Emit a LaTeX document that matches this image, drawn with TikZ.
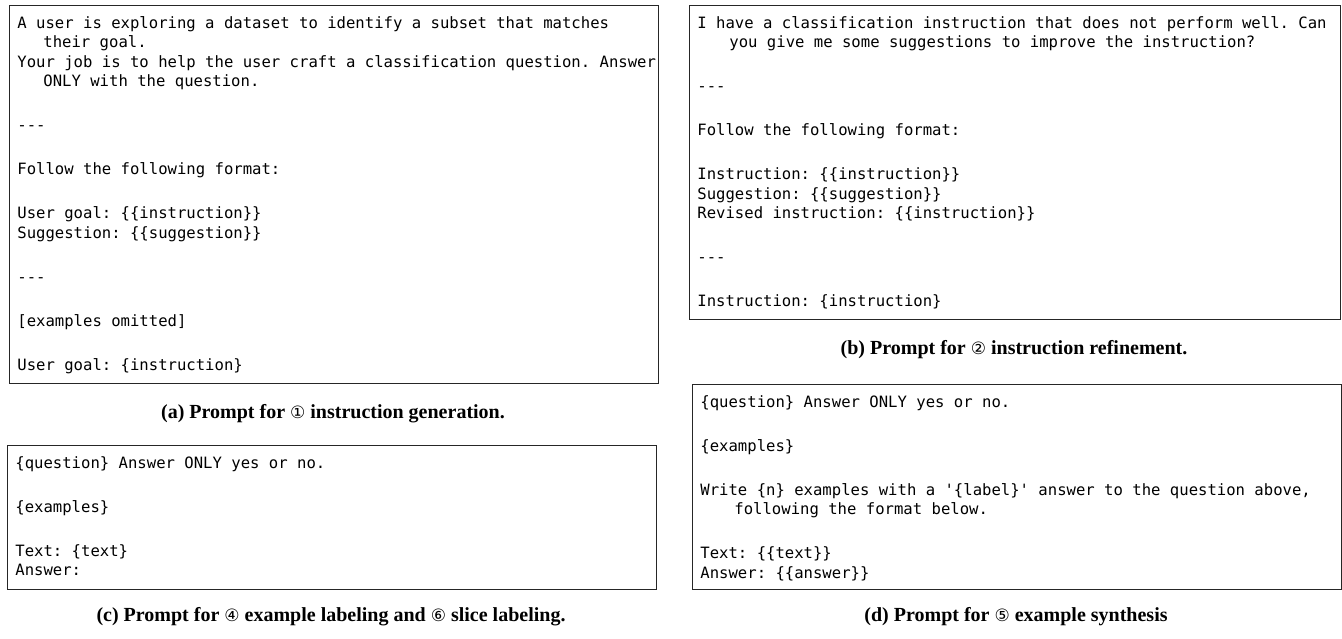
\documentclass[tikz,border=0pt]{standalone}
\usepackage{fontspec}
\setmainfont{Liberation Serif}
\setmonofont{DejaVu Sans Mono}
\newfontfamily\circfont{DejaVu Sans}
\newcommand{\circnum}[1]{{\circfont\mdseries\fontsize{8.5}{10}\selectfont #1}}
\newcommand{\blankgap}{12.25pt}

\begin{document}
\begin{tikzpicture}[x=0.5pt, y=-0.5pt,
    promptframe/.style={draw=black!85, line width=0.55pt, rectangle, inner sep=0pt, anchor=north west},
    prompttext/.style={anchor=north west, inner sep=0pt, align=left, font=\ttfamily\fontsize{7.8}{9.75}\selectfont},
    capt/.style={inner sep=0pt, font=\bfseries\fontsize{10}{12}\selectfont}]

    \useasboundingbox (0,0) rectangle (1342,638);

    % Frames of the four prompts
    \node[promptframe, minimum width=324.5pt, minimum height=189pt] (frameA) at (9,5) {};
    \node[promptframe, minimum width=325.5pt, minimum height=157pt] (frameB) at (689,5) {};
    \node[promptframe, minimum width=324.5pt, minimum height=72pt] (frameC) at (7,445) {};
    \node[promptframe, minimum width=324.5pt, minimum height=102.5pt] (frameD) at (692,384) {};

    % Prompt (a): instruction generation
    \node[prompttext] (promptA) at ([shift={(8,9.35)}]frameA.north west) {\strut A user is exploring a dataset to identify a subset that matches\\
        \hspace*{13pt}their goal.\\
        Your job is to help the user craft a classification question. Answer\\
        \hspace*{13pt}ONLY with the question.\\[\blankgap]
        -{}-{}-\\[\blankgap]
        Follow the following format:\\[\blankgap]
        User goal: \{\{instruction\}\}\\
        Suggestion: \{\{suggestion\}\}\\[\blankgap]
        -{}-{}-\\[\blankgap]
        {[}examples omitted{]}\\[\blankgap]
        User goal: \{instruction\}};

    % Prompt (b): instruction refinement
    \node[prompttext] (promptB) at ([shift={(8,9.35)}]frameB.north west) {\strut I have a classification instruction that does not perform well. Can\\
        \hspace*{16pt}you give me some suggestions to improve the instruction?\\[\blankgap]
        -{}-{}-\\[\blankgap]
        Follow the following format:\\[\blankgap]
        Instruction: \{\{instruction\}\}\\
        Suggestion: \{\{suggestion\}\}\\
        Revised instruction: \{\{instruction\}\}\\[\blankgap]
        -{}-{}-\\[\blankgap]
        Instruction: \{instruction\}};

    % Prompt (c): labeling
    \node[prompttext] (promptC) at ([shift={(8,9.35)}]frameC.north west) {\strut \{question\} Answer ONLY yes or no.\\[\blankgap]
        \{examples\}\\[\blankgap]
        Text: \{text\}\\
        Answer:};

    % Prompt (d): synthesis
    \node[prompttext] (promptD) at ([shift={(8,9.35)}]frameD.north west) {\strut \{question\} Answer ONLY yes or no.\\[\blankgap]
        \{examples\}\\[\blankgap]
        Write \{n\} examples with a '\{label\}' answer to the question above,\\
        \hspace*{17pt}following the format below.\\[\blankgap]
        Text: \{\{text\}\}\\
        Answer: \{\{answer\}\}};

    % Captions
    \node[capt] (captA) at (333,414) {(a) Prompt for \circnum{①} instruction generation.};
    \node[capt] (captB) at (1014,350) {(b) Prompt for \circnum{②} instruction refinement.};
    \node[capt] (captC) at (331,617) {(c) Prompt for \circnum{④} example labeling and \circnum{⑥} slice labeling.};
    \node[capt] (captD) at (1016,617) {(d) Prompt for \circnum{⑤} example synthesis};
\end{tikzpicture}
\end{document}
